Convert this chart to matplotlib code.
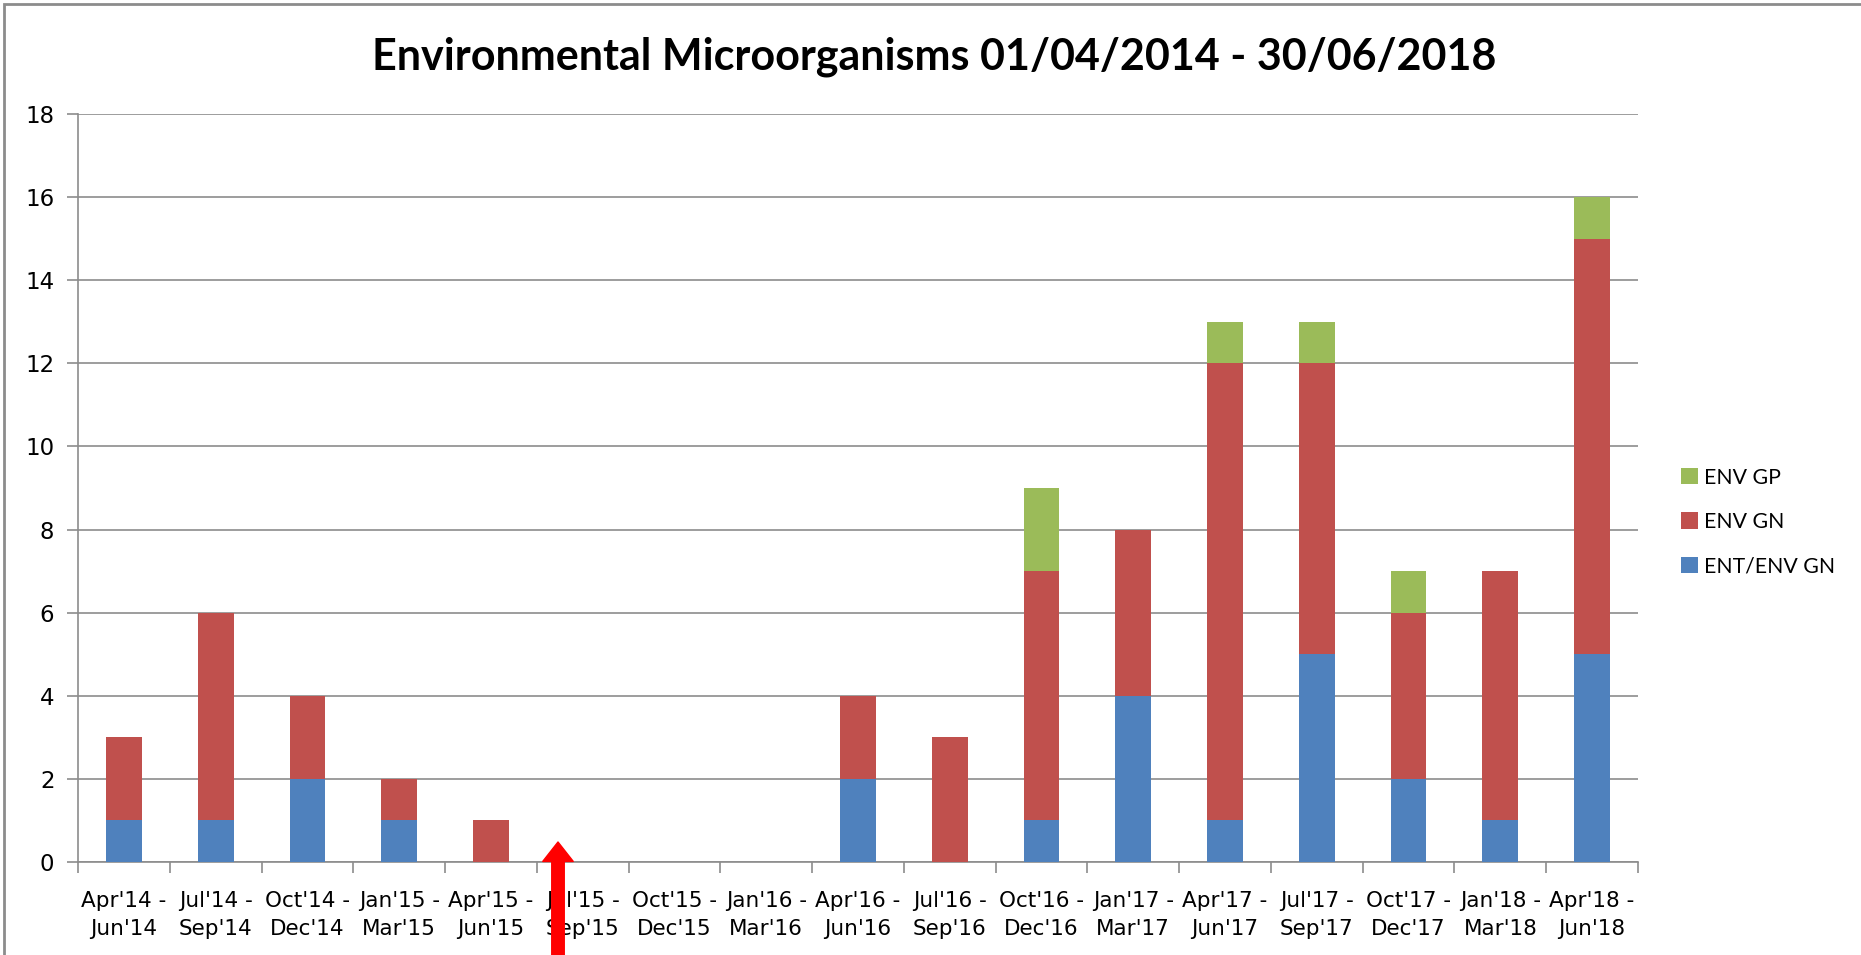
"""
environmental microorganisms - stacked bar chart by quarter
"""

import numpy as np
import matplotlib.pyplot as plt
import matplotlib as mpl
from matplotlib import font_manager

# narrow font for the ticks if we have it
names = {f.name for f in font_manager.fontManager.ttflist}
narrow = 'Liberation Sans Narrow' if 'Liberation Sans Narrow' in names else 'DejaVu Sans'

mpl.rcParams['font.family'] = ['Lato', 'DejaVu Sans']

quarters = ["Apr'14 -\nJun'14", "Jul'14 -\nSep'14", "Oct'14 -\nDec'14", "Jan'15 -\nMar'15",
            "Apr'15 -\nJun'15", "Jul'15 -\nSep'15", "Oct'15 -\nDec'15", "Jan'16 -\nMar'16",
            "Apr'16 -\nJun'16", "Jul'16 -\nSep'16", "Oct'16 -\nDec'16", "Jan'17 -\nMar'17",
            "Apr'17 -\nJun'17", "Jul'17 -\nSep'17", "Oct'17 -\nDec'17", "Jan'18 -\nMar'18",
            "Apr'18 -\nJun'18"]
ent_env_gn = [1, 1, 2, 1, 0, 0, 0, 0, 2, 0, 1, 4, 1, 5, 2, 1, 5]
env_gn = [2, 5, 2, 1, 1, 0, 0, 0, 2, 3, 6, 4, 11, 7, 4, 6, 10]
env_gp = [0, 0, 0, 0, 0, 0, 0, 0, 0, 0, 2, 0, 1, 1, 1, 0, 1]
yticks = list(range(0, 19, 2))

fig = plt.figure(figsize=(18.61, 9.55), dpi=100)
ax = fig.add_axes([78/1861, 1-862/955, (1638-78)/1861, (862-114)/955])

x = np.arange(len(quarters))
w = 0.39
b1 = ax.bar(x, ent_env_gn, w, color='#4F81BD', label='ENT/ENV GN', zorder=3)
b2 = ax.bar(x, env_gn, w, bottom=ent_env_gn, color='#C0504D', label='ENV GN', zorder=3)
b3 = ax.bar(x, env_gp, w, bottom=np.array(ent_env_gn) + np.array(env_gn),
            color='#9BBB59', label='ENV GP', zorder=3)

ax.set_xlim(-0.5, len(quarters) - 0.5)
ax.set_ylim(0, 18)
ax.set_yticks(yticks)
ax.yaxis.grid(True, color='#8c8c8c', linewidth=1.2, zorder=0)
for s in ['top', 'right']:
    ax.spines[s].set_visible(False)
ax.spines['left'].set_color('#8c8c8c')
ax.spines['bottom'].set_color('#8c8c8c')
ax.spines['left'].set_linewidth(1.2)
ax.spines['bottom'].set_linewidth(1.2)

# ticks sit between categories, labels centred on bars
ax.set_xticks(np.arange(-0.5, len(quarters), 1))
ax.set_xticklabels([])
ax.set_xticks(x, minor=True)
ax.set_xticklabels(quarters, minor=True, fontsize=15.5, family=[narrow, 'DejaVu Sans'],
                   linespacing=1.5)
ax.tick_params(axis='x', which='major', length=8, color='#8c8c8c', width=1.2)
ax.tick_params(axis='x', which='minor', length=0, pad=21)
ax.tick_params(axis='y', length=8, color='#8c8c8c', width=1.2, labelsize=16.5, pad=9)
for lab in ax.get_yticklabels():
    lab.set_family([narrow, 'DejaVu Sans'])

fig.text(934/1861, 1-57/955, 'Environmental Microorganisms 01/04/2014 - 30/06/2018',
         ha='center', va='center', fontsize=31, fontweight='bold')

ax.legend(handles=[b3, b2, b1], loc='center left', bbox_to_anchor=(1662/1861, 1-522/955),
          bbox_transform=fig.transFigure, frameon=False, fontsize=15.3,
          handlelength=0.8, handleheight=0.8, handletextpad=0.3, labelspacing=1.15)

# red arrow pointing at Jul'15 - Sep'15
ax.annotate('', xy=(558/1861, 1-842/955), xycoords='figure fraction',
            xytext=(558/1861, 1-960/955), textcoords='figure fraction',
            arrowprops=dict(facecolor='#ff0000', edgecolor='#ff0000', width=9,
                            headwidth=22, headlength=14), annotation_clip=False)

# outer chart border
fig.patches.append(mpl.patches.Rectangle((4/1861, -0.01), 1.2, 1-4/955 + 0.01,
                   transform=fig.transFigure, fill=False, edgecolor='#8c8c8c', linewidth=2))

fig.savefig('out.png', dpi=100)
